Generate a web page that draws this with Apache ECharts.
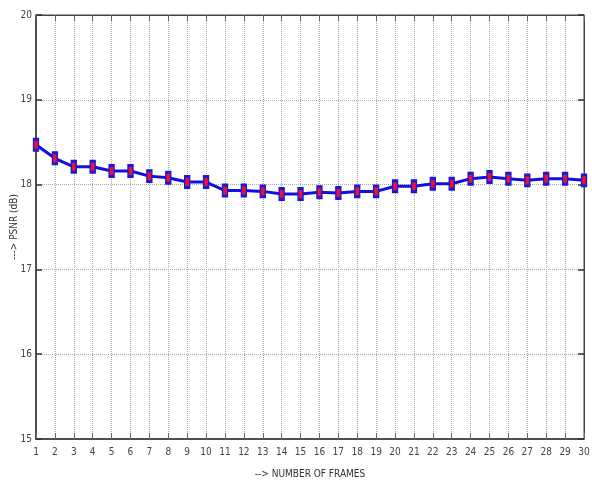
<!DOCTYPE html>
<html><head><meta charset="utf-8">
<script src="https://cdn.jsdelivr.net/npm/echarts@6/dist/echarts.min.js"></script>
<style>html,body{margin:0;padding:0;background:#fff}#c{width:592px;height:485px}</style>
</head><body><div id="c"></div>
<script>
const frames = [1,2,3,4,5,6,7,8,9,10,11,12,13,14,15,16,17,18,19,20,21,22,23,24,25,26,27,28,29,30];
const psnr = [18.47,18.31,18.21,18.21,18.16,18.16,18.10,18.08,18.03,18.03,17.93,17.93,17.92,17.89,17.89,17.91,17.90,17.92,17.92,17.98,17.98,18.01,18.01,18.07,18.09,18.07,18.05,18.07,18.07,18.05];
const yTicks = [15,16,17,18,19,20];
const xName = '--> NUMBER OF FRAMES';
const yName = '---> PSNR (dB)';

const font = "'DejaVu Sans Condensed','Liberation Sans Narrow','Liberation Sans',sans-serif";
const chart = echarts.init(document.getElementById('c'));
const tickStyle = {show:true, inside:true, length:6, lineStyle:{color:'#666', width:1}};
chart.setOption({
  animation:false,
  backgroundColor:'#fff',
  grid:{left:36, right:8, top:15, bottom:46, show:true, borderColor:'#444', borderWidth:1, containLabel:false, outerBoundsMode:'none'},
  xAxis:[{
    type:'value', min:1, max:30, interval:1,
    name:xName, nameLocation:'middle', nameGap:30,
    nameTextStyle:{fontFamily:font, fontSize:10, color:'#333'},
    axisLine:{show:true, lineStyle:{color:'#333', width:1.5}},
    axisTick:tickStyle,
    axisLabel:{fontFamily:font, fontSize:10, color:'#444', margin:8},
    splitLine:{show:true, lineStyle:{type:'dotted', color:'#aaa', width:1}}
  },{
    type:'value', position:'top', min:1, max:30, interval:1,
    axisLine:{show:true, lineStyle:{color:'#444'}},
    axisTick:tickStyle, axisLabel:{show:false}, splitLine:{show:false}
  }],
  yAxis:[{
    type:'value', min:yTicks[0], max:yTicks[yTicks.length-1], interval:1,
    name:yName, nameLocation:'middle', nameGap:17, nameRotate:90, nameMoveOverlap:false,
    nameTextStyle:{fontFamily:font, fontSize:10, color:'#333'},
    axisLine:{show:true, lineStyle:{color:'#333', width:1.5}},
    axisTick:{show:true, inside:true, length:6, lineStyle:{color:'#333', width:1.5}},
    axisLabel:{fontFamily:font, fontSize:10, color:'#444', margin:4},
    splitLine:{show:true, lineStyle:{type:'dotted', color:'#aaa', width:1}}
  },{
    type:'value', position:'right', min:15, max:20, interval:1,
    axisLine:{show:true, lineStyle:{color:'#444'}},
    axisTick:{show:true, inside:true, length:6, lineStyle:{color:'#333', width:1.5}},
    axisLabel:{show:false}, splitLine:{show:false}
  }],
  series:[{
    type:'line',
    data:frames.map((f,i)=>[f, psnr[i]]),
    lineStyle:{color:'#1010e0', width:3},
    symbol:'rect', symbolSize:[5,11],
    itemStyle:{color:'#ee1030', borderColor:'#1818d8', borderWidth:2},
    z:5
  }]
});
</script></body></html>
